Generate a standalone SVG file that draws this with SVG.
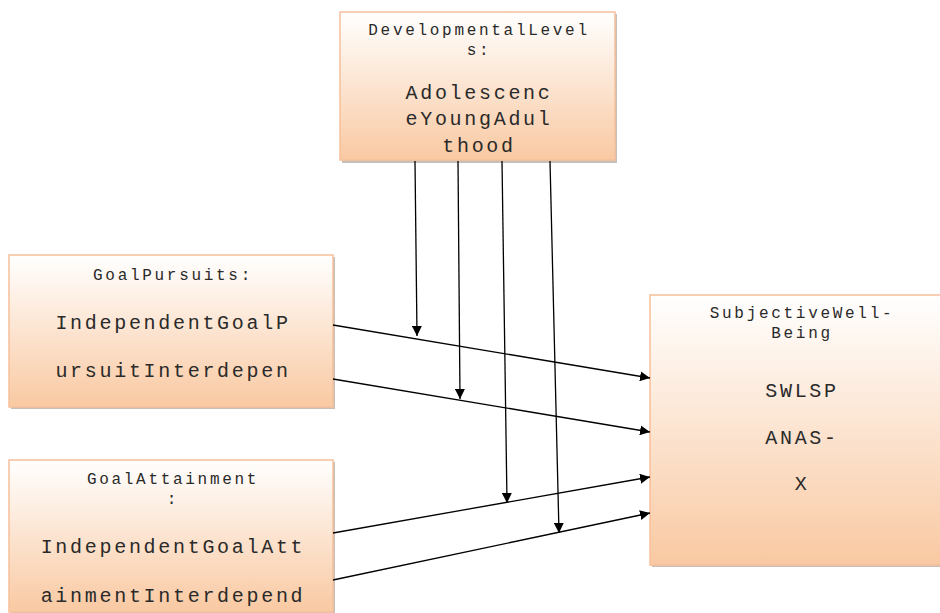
<svg xmlns="http://www.w3.org/2000/svg" width="940" height="613" viewBox="0 0 940 613">
  <defs>
    <linearGradient id="peach" x1="0" y1="0" x2="0" y2="1">
      <stop offset="0" stop-color="#ffffff"/>
      <stop offset="1" stop-color="#f9c9a2"/>
    </linearGradient>
    <marker id="arrow" viewBox="0 0 10 10" refX="10" refY="5" markerWidth="10" markerHeight="10" markerUnits="userSpaceOnUse" orient="auto">
      <path d="M0,0 L10,5 L0,10 Z" fill="#000"/>
    </marker>
    <style>
      .box { fill: url(#peach); stroke: #f6c09a; stroke-width: 1.5; }
      .shadow { fill: #9a8a80; opacity: 0.55; }
      .sm { font-family: "Liberation Mono", "Courier New", monospace; font-size: 16px; letter-spacing: 2.7px; fill: #2a2a2a; text-anchor: middle; }
      .lg { font-family: "Liberation Mono", "Courier New", monospace; font-size: 20px; letter-spacing: 2.7px; fill: #2a2a2a; text-anchor: middle; }
      .conn { stroke: #000; stroke-width: 1.3; fill: none; marker-end: url(#arrow); }
    </style>
  </defs>

  <g id="developmental-levels">
    <rect class="shadow" x="342" y="14" width="275" height="149"/>
    <rect class="box" x="340" y="12" width="275" height="148"/>
    <text class="sm" x="479" y="35">DevelopmentalLevel</text>
    <text class="sm" x="479" y="55">s:</text>
    <text class="lg" x="479" y="99">Adolescenc</text>
    <text class="lg" x="479" y="125">eYoungAdul</text>
    <text class="lg" x="479" y="152">thood</text>
  </g>

  <g id="goal-pursuits">
    <rect class="shadow" x="11" y="257" width="324" height="152"/>
    <rect class="box" x="9" y="255" width="324" height="152"/>
    <text class="sm" x="173" y="280">GoalPursuits:</text>
    <text class="lg" x="173" y="329">IndependentGoalP</text>
    <text class="lg" x="173" y="377">ursuitInterdepen</text>
  </g>

  <g id="goal-attainment">
    <rect class="shadow" x="11" y="462" width="324" height="152"/>
    <rect class="box" x="9" y="460" width="324" height="152"/>
    <text class="sm" x="173" y="484">GoalAttainment</text>
    <text class="sm" x="173" y="504">:</text>
    <text class="lg" x="173" y="553">IndependentGoalAtt</text>
    <text class="lg" x="173" y="602">ainmentInterdepend</text>
  </g>

  <g id="subjective-well-being">
    <rect class="shadow" x="652" y="297" width="300" height="270"/>
    <rect class="box" x="650" y="295" width="300" height="270"/>
    <text class="sm" x="802" y="318">SubjectiveWell-</text>
    <text class="sm" x="802" y="338">Being</text>
    <text class="lg" x="802" y="397">SWLSP</text>
    <text class="lg" x="802" y="444">ANAS-</text>
    <text class="lg" x="802" y="490">X</text>
  </g>

  <g id="connectors">
    <line class="conn" x1="333" y1="325" x2="650" y2="378"/>
    <line class="conn" x1="333" y1="379" x2="650" y2="432"/>
    <line class="conn" x1="333" y1="533" x2="650" y2="477"/>
    <line class="conn" x1="333" y1="580" x2="650" y2="513"/>
    <line class="conn" x1="415" y1="161" x2="417" y2="336"/>
    <line class="conn" x1="458" y1="161" x2="460" y2="399"/>
    <line class="conn" x1="502" y1="161" x2="507" y2="503"/>
    <line class="conn" x1="550" y1="161" x2="559" y2="533"/>
  </g>
</svg>
